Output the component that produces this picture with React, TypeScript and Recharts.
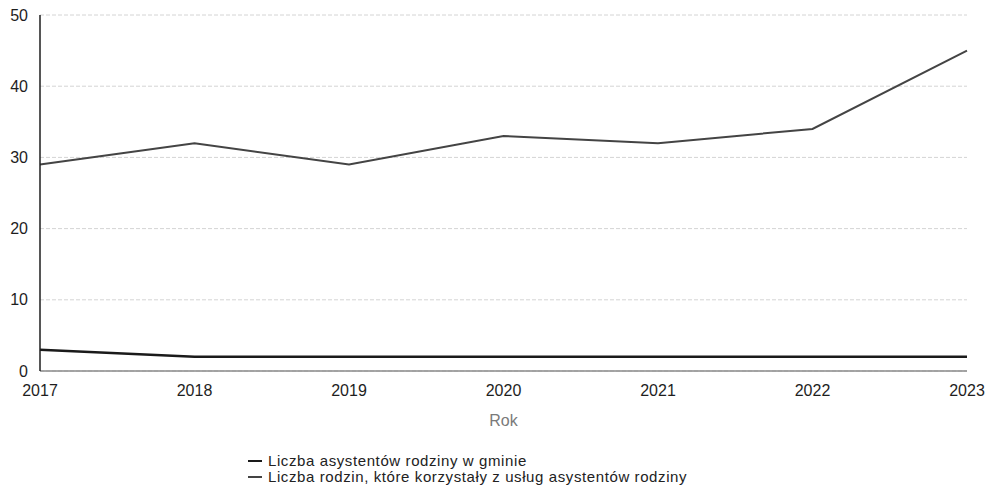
import React from 'react';
import { LineChart, Line, XAxis, YAxis, CartesianGrid, Legend } from 'recharts';

const years = ['2017', '2018', '2019', '2020', '2021', '2022', '2023'];
const assistants = [3, 2, 2, 2, 2, 2, 2];
const families = [29, 32, 29, 33, 32, 34, 45];
const yTicks = [0, 10, 20, 30, 40, 50];

const seriesNames = {
  assistants: 'Liczba asystentów rodziny w gminie',
  families: 'Liczba rodzin, które korzystały z usług asystentów rodziny',
};

const data = years.map((year, i) => ({
  year,
  assistants: assistants[i],
  families: families[i],
}));

const FONT = '"Liberation Sans", Arial, sans-serif';

const LegendContent = () => {
  const items = [
    { name: seriesNames.assistants, color: '#1a1a1a' },
    { name: seriesNames.families, color: '#444' },
  ];
  return (
    <div style={{ paddingTop: 22, fontFamily: FONT, fontSize: 15, letterSpacing: 0.6, lineHeight: '16px', color: '#222' }}>
      {items.map((it) => (
        <div key={it.name} style={{ display: 'flex', alignItems: 'center', height: 16, whiteSpace: 'nowrap' }}>
          <span style={{ display: 'inline-block', width: 14, height: 2, background: it.color, marginRight: 6 }} />
          <span>{it.name}</span>
        </div>
      ))}
    </div>
  );
};

export default function App() {
  return (
    <div style={{ position: 'absolute', left: 0, top: 0, width: 986, height: 486, background: '#fff' }}>
      <LineChart width={986} height={486} data={data} margin={{ top: 15, right: 19, left: 0, bottom: 15 }}>
        <CartesianGrid vertical={false} stroke="#d4d4d4" strokeDasharray="4 2" />
        <XAxis
          dataKey="year"
          height={60}
          tickLine={false}
          tickMargin={8}
          axisLine={{ stroke: '#8a8a8a', strokeWidth: 1.5 }}
          tick={{ fill: '#1e1e1e', fontSize: 16, fontFamily: FONT }}
          interval={0}
          label={{ value: 'Rok', position: 'insideBottom', offset: 5, fill: '#7a7a7a', fontSize: 16, fontFamily: FONT }}
        />
        <YAxis
          width={40}
          domain={[0, 50]}
          ticks={yTicks}
          tickLine={false}
          tickMargin={6}
          axisLine={{ stroke: '#1e1e1e', strokeWidth: 1.5 }}
          tick={{ fill: '#1e1e1e', fontSize: 16, fontFamily: FONT }}
        />
        <Legend
          verticalAlign="bottom"
          align="left"
          height={40}
          wrapperStyle={{ left: 248, width: 'auto' }}
          content={<LegendContent />}
        />
        <Line
          type="linear"
          dataKey="assistants"
          name={seriesNames.assistants}
          stroke="#1a1a1a"
          strokeWidth={2.5}
          dot={false}
          isAnimationActive={false}
        />
        <Line
          type="linear"
          dataKey="families"
          name={seriesNames.families}
          stroke="#444"
          strokeWidth={2}
          dot={false}
          isAnimationActive={false}
        />
      </LineChart>
    </div>
  );
}
